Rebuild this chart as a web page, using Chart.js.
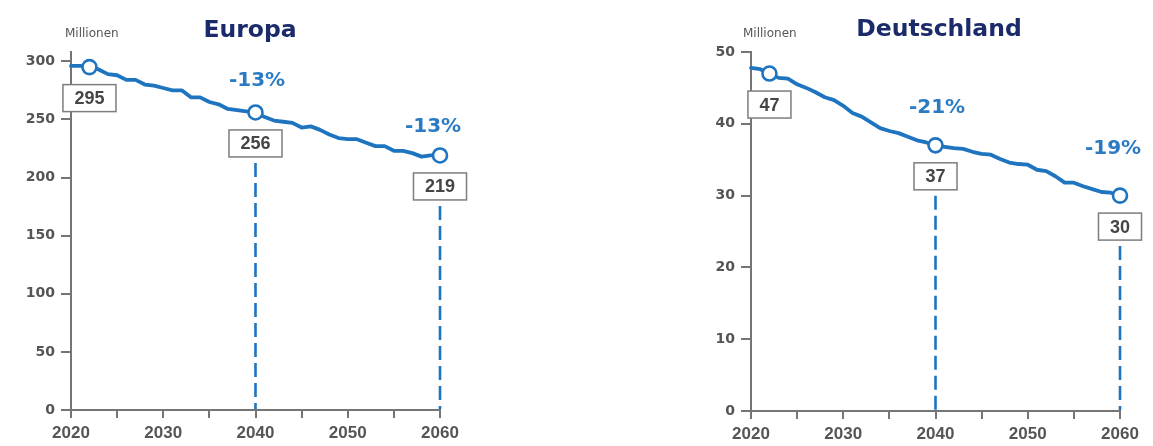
<!DOCTYPE html>
<html lang="de">
<head>
<meta charset="utf-8">
<title>Bevölkerung im erwerbsfähigen Alter – Europa und Deutschland</title>
<script src="https://cdn.jsdelivr.net/npm/chart.js@4/dist/chart.umd.min.js"></script>
<style>
  html, body { margin: 0; padding: 0; background: #ffffff; }
  body { width: 1153px; height: 446px; position: relative; overflow: hidden; }
  canvas { position: absolute; top: 0; }
  #europa { left: 0; }
  #deutschland { left: 680px; }
</style>
</head>
<body>
<canvas id="europa" width="480" height="446"></canvas>
<canvas id="deutschland" width="473" height="446"></canvas>
<script>
// Years on the x axis
const years = [2020, 2021, 2022, 2023, 2024, 2025, 2026, 2027, 2028, 2029,
               2030, 2031, 2032, 2033, 2034, 2035, 2036, 2037, 2038, 2039,
               2040, 2041, 2042, 2043, 2044, 2045, 2046, 2047, 2048, 2049,
               2050, 2051, 2052, 2053, 2054, 2055, 2056, 2057, 2058, 2059, 2060];

// Population in millions, Europe
const europaValues = [296, 296, 295, 293, 289, 288, 284, 284, 280, 279,
                      277, 275, 275, 269, 269, 265, 263, 259, 258, 257,
                      256, 252, 249, 248, 247, 243, 244, 241, 237, 234,
                      233, 233, 230, 227, 227, 223, 223, 221, 218, 219, 219];

// Population in millions, Germany
const deutschlandValues = [47.8, 47.6, 47, 46.4, 46.3, 45.5, 45.0, 44.4, 43.7, 43.3,
                           42.5, 41.5, 41.0, 40.2, 39.4, 39.0, 38.7, 38.2, 37.7, 37.4,
                           37, 36.8, 36.6, 36.5, 36.1, 35.8, 35.7, 35.1, 34.6, 34.4,
                           34.3, 33.6, 33.4, 32.7, 31.8, 31.8, 31.3, 30.9, 30.5, 30.4, 30];

// Labelled x ticks (ticks every 5 years, labels every 10)
const xTickLabels = [2020, 2030, 2040, 2050, 2060];

// Highlighted years and the change printed above them
const europaMarkers = [2022, 2040, 2060];
const europaChanges = ['', '-13%', '-13%'];
const deutschlandMarkers = [2022, 2040, 2060];
const deutschlandChanges = ['', '-21%', '-19%'];

const BLUE = '#1f74bf';
const PCT_BLUE = '#2a7bc4';
const AXIS = '#757575';
const TICK_TEXT = '#555555';
const NAVY = '#1b2a6b';

// Draws the title, unit, value boxes, dashed drop lines and change labels
const calloutPlugin = {
  id: 'callouts',
  afterDatasetsDraw(chart, args, opts) {
    const ctx = chart.ctx;
    const xs = chart.scales.x, ys = chart.scales.y;
    const area = chart.chartArea;
    ctx.save();

    opts.markers.forEach((year, i) => {
      const idx = years.indexOf(year);
      const value = opts.values[idx];
      const px = xs.getPixelForValue(year);
      const py = ys.getPixelForValue(value);

      // value box geometry
      ctx.font = 'bold 18px "Liberation Sans", Arial, sans-serif';
      const text = String(Math.round(value));
      const w = ctx.measureText(text).width + 23;
      const h = 27;
      const cy = py + opts.boxOffset;
      const bx = px - w / 2, by = cy - h / 2;

      // dashed drop line from the box down to the axis
      if (i > 0) {
        ctx.save();
        ctx.strokeStyle = BLUE;
        ctx.lineWidth = 2.6;
        ctx.setLineDash([14, 6]);
        ctx.beginPath();
        ctx.moveTo(px, by + h + 6);
        ctx.lineTo(px, area.bottom - 1);
        ctx.stroke();
        ctx.restore();
      }

      ctx.fillStyle = '#ffffff';
      ctx.fillRect(bx, by, w, h);
      ctx.strokeStyle = '#7d7d7d';
      ctx.lineWidth = 1.5;
      ctx.strokeRect(bx, by, w, h);
      ctx.fillStyle = '#454545';
      ctx.textAlign = 'center';
      ctx.textBaseline = 'middle';
      ctx.fillText(text, px, cy + 1);

      // change label above the marker
      const change = opts.changes[i];
      if (change) {
        const off = opts.changeOffsets[i];
        ctx.font = 'bold 20px "DejaVu Sans", sans-serif';
        ctx.fillStyle = PCT_BLUE;
        ctx.textAlign = 'center';
        ctx.textBaseline = 'middle';
        ctx.fillText(change, px + off[0], py - off[1]);
      }
    });

    // title
    ctx.font = 'bold 23.5px "DejaVu Sans", sans-serif';
    ctx.fillStyle = NAVY;
    ctx.textAlign = 'center';
    ctx.textBaseline = 'alphabetic';
    ctx.fillText(opts.title, opts.titleX, opts.titleY);

    // unit
    ctx.font = '12px "DejaVu Sans", sans-serif';
    ctx.fillStyle = TICK_TEXT;
    ctx.textAlign = 'left';
    ctx.fillText('Millionen', opts.unitX, 37);

    ctx.restore();
  }
};

function makeChart(id, cfg) {
  const markerSet = cfg.markers;
  return new Chart(document.getElementById(id), {
    type: 'line',
    data: {
      datasets: [{
        data: years.map((y, i) => ({ x: y, y: cfg.values[i] })),
        borderColor: BLUE,
        borderWidth: 3.8,
        borderJoinStyle: 'round',
        borderCapStyle: 'round',
        tension: 0,
        clip: false,
        pointRadius: c => (c.raw && markerSet.includes(c.raw.x)) ? 7 : 0,
        pointBackgroundColor: '#ffffff',
        pointBorderColor: BLUE,
        pointBorderWidth: 2.6
      }]
    },
    options: {
      responsive: false,
      animation: false,
      events: [],
      layout: { padding: { top: 52, right: cfg.padRight, left: 0, bottom: 0 } },
      plugins: {
        legend: { display: false },
        tooltip: { enabled: false },
        callouts: {
          title: cfg.title, titleX: cfg.titleX, titleY: cfg.titleY, unitX: cfg.unitX,
          markers: cfg.markers, changes: cfg.changes, values: cfg.values,
          changeOffsets: cfg.changeOffsets, boxOffset: 31
        }
      },
      scales: {
        x: {
          type: 'linear',
          min: 2020,
          max: 2060,
          afterFit: s => { s.height = cfg.xAxisHeight; },
          ticks: {
            stepSize: 5,
            autoSkip: false,
            maxRotation: 0,
            padding: 5,
            color: TICK_TEXT,
            font: { family: '"Liberation Sans", Arial, sans-serif', weight: 'bold', size: 17 },
            callback: v => xTickLabels.includes(v) ? String(v) : ''
          },
          grid: { drawOnChartArea: false, drawTicks: true, tickLength: 8, color: AXIS, lineWidth: 2 },
          border: { display: true, color: AXIS, width: 2 }
        },
        y: {
          min: 0,
          max: cfg.yMax,
          afterFit: s => { s.width = 71; },
          ticks: {
            stepSize: cfg.yStep,
            includeBounds: false,
            padding: 6,
            color: TICK_TEXT,
            font: { family: '"DejaVu Sans", sans-serif', weight: 'bold', size: 14 }
          },
          grid: { drawOnChartArea: false, drawTicks: true, tickLength: 10, color: AXIS, lineWidth: 2 },
          border: { display: true, color: AXIS, width: 2 }
        }
      }
    },
    plugins: [calloutPlugin]
  });
}

makeChart('europa', {
  title: 'Europa', titleX: 250, titleY: 37, unitX: 65,
  values: europaValues, markers: europaMarkers, changes: europaChanges,
  changeOffsets: [[0, 0], [1.5, 32], [-7, 29]],
  yMax: 308, yStep: 50, padRight: 40, xAxisHeight: 36
});

makeChart('deutschland', {
  title: 'Deutschland', titleX: 259, titleY: 36, unitX: 63,
  values: deutschlandValues, markers: deutschlandMarkers, changes: deutschlandChanges,
  changeOffsets: [[0, 0], [1.5, 38], [-7, 47]],
  yMax: 50, yStep: 10, padRight: 33, xAxisHeight: 35
});
</script>
</body>
</html>
